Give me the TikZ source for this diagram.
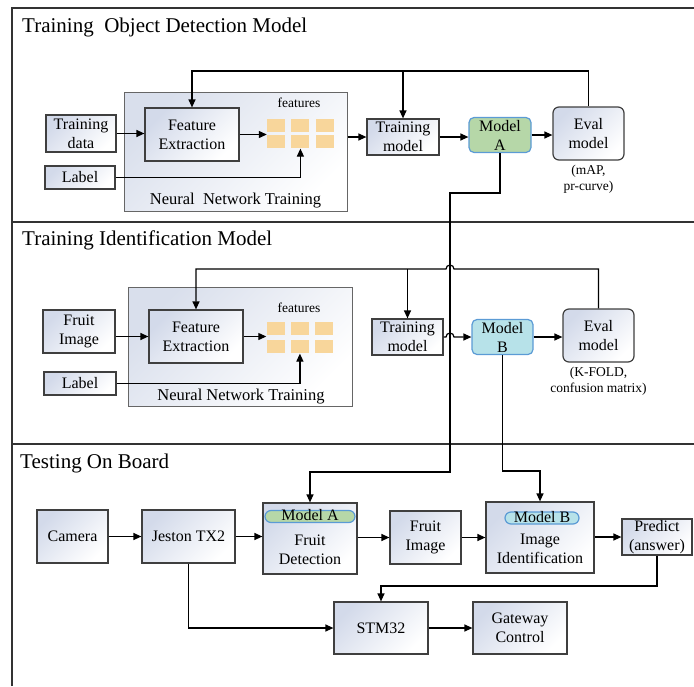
\documentclass[tikz,border=0pt]{standalone}
\usepackage{fontspec}
\setmainfont{Liberation Serif}
\usepackage{xcolor}
\usepackage{tikz}
\usetikzlibrary{arrows.meta,positioning}
\definecolor{inkgrey}{HTML}{3F3F3F}
\definecolor{framegrey}{HTML}{333333}
\definecolor{nngrey}{HTML}{666666}
\definecolor{boxtint}{HTML}{D3DAEA}
\definecolor{nntint}{HTML}{D9DFEC}
\definecolor{featfill}{HTML}{F8D69B}
\definecolor{modAfill}{HTML}{B6D7A8}
\definecolor{modBfill}{HTML}{B7E2E9}
\definecolor{edgeblue}{HTML}{5B9BD5}

\begin{document}
\begin{tikzpicture}[
  x=1pt, y=-1pt,
  sz/.style 2 args={minimum width=#1pt, minimum height=#2pt},
  base/.style={draw=inkgrey, line width=1.2pt, align=center, inner sep=0pt,
               font=\fontsize{16}{19}\selectfont},
  box/.style={base, top color=boxtint, bottom color=white, shading angle=45},
  evalb/.style={box, rounded corners=6pt},
  nnbox/.style={draw=nngrey, line width=1pt, top color=nntint, bottom color=white,
                shading angle=45},
  mdlA/.style={base, draw=edgeblue, fill=modAfill, rounded corners=5pt},
  mdlB/.style={base, draw=edgeblue, fill=modBfill, rounded corners=5pt},
  pill/.style={text height=10pt, text depth=2pt, rounded corners=6pt},
  feat/.style={fill=featfill, sz={18}{13}, inner sep=0pt},
  title/.style={anchor=base west, inner sep=0pt, font=\fontsize{21}{25}\selectfont},
  nnlab/.style={anchor=base, inner sep=0pt, font=\fontsize{16.5}{19}\selectfont},
  small/.style={inner sep=0pt, align=center, font=\fontsize{13.5}{16}\selectfont},
  txt/.style={inner sep=0pt, align=center, font=\fontsize{16}{19}\selectfont},
  frame/.style={draw=framegrey, line width=1.2pt},
  ar/.style={-{Triangle[length=8pt,width=7pt]}, line width=1.2pt}]
\useasboundingbox (0,0) rectangle (694,686);

% frame and sections
\draw[frame] (12,686) -- (12,8) -- (694,8);
\draw[frame] (12,222) -- (694,222);
\draw[frame] (12,444) -- (694,444);
\node[title] (t1) at (22,32) {Training\ \ Object Detection Model};
\node[title] (t2) at (22,245) {Training Identification Model};
\node[title] (t3) at (20,468) {Testing On Board};

% --- training object detection model
\node[nnbox, sz={223}{119}] (nn1) at (235.5,151.5) {};
\node[nnlab] (nnt1) at (235.5,204) {Neural\ \ Network Training};
\node[box, sz={70}{37}] (td) at (81,133.5) {Training\\data};
\node[box, sz={70}{23}] (lab1) at (80,177.5) {Label};
\node[box, sz={94}{53}] (fe1) at (192,134.5) {Feature\\Extraction};
\node[feat] (a1) at (276,125.5) {};
\node[feat, right=6pt of a1] (a2) {};
\node[feat, right=6pt of a2] (a3) {};
\node[feat, below=3pt of a1] (a4) {};
\node[feat, below=3pt of a2] (a5) {};
\node[feat, below=3pt of a3] (a6) {};
\node[small, anchor=base] (ft1) at (299,107) {features};
\node[box, sz={72}{36}] (tm1) at (403,137) {Training\\model};
\node[mdlA, sz={62}{35}] (ma) at (500,135) {Model\\A};
\node[evalb, sz={71}{53}] (ev1) at (588.5,133.5) {Eval\\model};
\node[small, below=4pt of ev1] (n1) {(mAP,\\pr-curve)};
\coordinate (top1) at (300,71);
\draw[ar] (td.east) -- (td.east -| fe1.west);
\draw[ar] (fe1.east) -- (fe1.east -| a1.west);
\draw[ar] (lab1.east) -| (a5.south);
\draw[ar] (tm1.west -| nn1.east) -- (tm1.west);
\draw[ar] (tm1.east) -- (tm1.east -| ma.west);
\draw[ar] (ma.east) -- (ma.east -| ev1.west);
\draw[ar] (ev1.north) |- (top1) -| (fe1.north);
\draw[ar] (tm1.north |- top1) -- (tm1.north);

% --- training identification model
\node[nnbox, sz={224}{119}] (nn2) at (240,346.5) {};
\node[nnlab] (nnt2) at (241,400) {Neural Network Training};
\node[box, sz={72}{43}] (fi) at (79,331.5) {Fruit\\Image};
\node[box, sz={72}{23}] (lab2) at (80,383.5) {Label};
\node[box, sz={94}{53}] (fe2) at (196,336.5) {Feature\\Extraction};
\node[feat] (b1) at (275.5,328.5) {};
\node[feat, right=6pt of b1] (b2) {};
\node[feat, right=6pt of b2] (b3) {};
\node[feat, below=5pt of b1] (b4) {};
\node[feat, below=5pt of b2] (b5) {};
\node[feat, below=5pt of b3] (b6) {};
\node[small, anchor=base] (ft2) at (299,312) {features};
\node[box, sz={71}{36}] (tm2) at (407.5,337) {Training\\model};
\node[mdlB, sz={61}{35}] (mb) at (502.5,337) {Model\\B};
\node[evalb, sz={71}{53}] (ev2) at (598.5,335.5) {Eval\\model};
\node[small, below=4pt of ev2] (n2) {(K-FOLD,\\confusion matrix)};
\coordinate (top2) at (300,269);
\draw[ar] (fe2.west -| fi.east) -- (fe2.west);
\draw[ar] (fe2.east) -- (fe2.east -| b1.west);
\draw[ar] (lab2.east) -| (b5.south);
\draw[ar] (ev2.north) |- (454,269) arc[start angle=0, end angle=180, radius=4pt]
  -| (fe2.north);
\draw[ar] (tm2.north |- top2) -- (tm2.north);
\draw[ar] (tm2.east) -- (446,337) arc[start angle=180, end angle=0, radius=4pt]
  -- (mb.west);
\draw[ar] (mb.east) -- (mb.east -| ev2.west);

% --- testing on board
\node[box, sz={71}{53}] (cam) at (72.5,536.5) {Camera};
\node[box, sz={93}{53}] (jet) at (188.5,536.5) {Jeston TX2};
\node[box, sz={94}{71}] (fd) at (310,538.5) {};
\node[mdlA, pill, sz={90}{12}] (pa) at (310,516.5) {Model A};
\node[txt] (fdt) at (310,550) {Fruit\\Detection};
\node[box, sz={71}{53}] (fim) at (425.5,537.5) {Fruit\\Image};
\node[box, sz={108}{71}] (ii) at (540,537.5) {};
\node[mdlB, pill, sz={74}{12}] (pb) at (542,518) {Model B};
\node[txt] (iit) at (540,549) {Image\\Identification};
\node[box, sz={70}{36}] (pred) at (657,537) {Predict\\(answer)};
\node[box, sz={94}{52}] (stm) at (381,628) {STM32};
\node[box, sz={94}{52}] (gw) at (520,628) {Gateway\\Control};
\coordinate (kneeA) at (450,193);
\coordinate (kneeA2) at (450,472);
\coordinate (busB) at (600,471);
\coordinate (busP) at (600,586);
\draw[ar] (cam.east) -- (cam.east -| jet.west);
\draw[ar] (jet.east) -- (jet.east -| fd.west);
\draw[ar] (fd.east |- fim.west) -- (fim.west);
\draw[ar] (fim.east) -- (fim.east -| ii.west);
\draw[ar] (ii.east |- pred.west) -- (pred.west);
\draw[ar] (pred.south) -- (pred.south |- busP) -| (stm.north);
\draw[ar] (jet.south) |- (stm.west);
\draw[ar] (stm.east) -- (gw.west);
\draw[ar] (ma.south) |- (kneeA) -- (kneeA2) -| (fd.north);
\draw[ar] (mb.south) -- (mb.south |- busB) -| (ii.north);
\end{tikzpicture}
\end{document}
